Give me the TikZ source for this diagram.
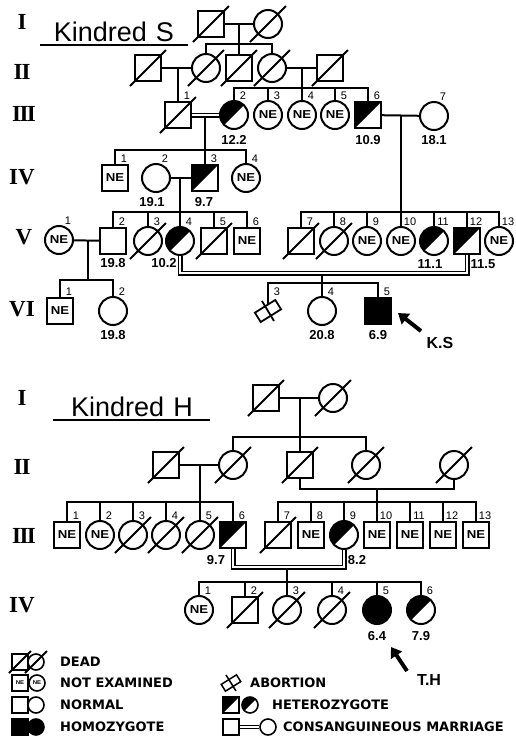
\documentclass[tikz,border=0pt]{standalone}
\usepackage{fontspec}
\setmainfont{Liberation Sans}
\usetikzlibrary{arrows.meta}
\newfontfamily\lsans{Liberation Sans}
\newfontfamily\dvsans{DejaVu Sans}
\newfontfamily\lserif{Liberation Serif}
\newcommand{\numfont}{\lsans\fontsize{11}{11}\selectfont}
\newcommand{\valfont}{\lsans\bfseries\fontsize{13}{13}\selectfont}
\newcommand{\genfont}{\lserif\bfseries\fontsize{23}{23}\selectfont}
\newcommand{\legfont}{\dvsans\bfseries\fontsize{13}{13}\selectfont}
\newcommand{\nefont}{\lsans\bfseries\fontsize{11.5}{11.5}\selectfont}
\newcommand{\titlefont}{\lsans\fontsize{27}{27}\selectfont}
\newcommand{\NEt}{\scalebox{1.15}[1]{\nefont NE}}
\newcommand{\NEs}{\scalebox{1.1}[1]{\lsans\bfseries\fontsize{5.5}{5.5}\selectfont NE}}
\newcommand{\deadmk}[2][18pt]{\draw[slash] ([shift={(-#1,-#1)}]#2.center) -- ([shift={(#1,#1)}]#2.center);}
\newcommand{\pn}[2]{\node[num] (#1n) at ([shift={(9pt,19pt)}]#1.center) {#2};}
\tikzset{
  shp/.style={draw, line width=2pt, inner sep=0pt},
  sq/.style={shp, rectangle, minimum size=26pt},
  ci/.style={shp, circle, minimum size=28pt},
  lsq/.style={shp, line width=1.6pt, rectangle, minimum size=16pt},
  lci/.style={shp, line width=1.6pt, circle, minimum size=16pt},
  hets/.style={path picture={\fill (path picture bounding box.north west) -- (path picture bounding box.north east) -- (path picture bounding box.south west) -- cycle;}},
  hetc/.style={path picture={\fill (path picture bounding box.north west) -- (path picture bounding box.north east) -- (path picture bounding box.south west) -- cycle;}},
  hom/.style={fill=black},
  ln/.style={line width=2pt},
  dbl/.style={line width=1.5pt, double, double distance=2pt},
  slash/.style={line width=1.9pt},
  abort/.style={draw, line width=1.8pt, rectangle, minimum width=24pt, minimum height=11pt, inner sep=0pt, rotate=32},
  num/.style={font=\numfont, inner sep=0pt},
  val/.style={font=\valfont, inner sep=0pt},
  gen/.style={font=\genfont, inner sep=0pt},
  leg/.style={font=\legfont, anchor=west, inner sep=0pt},
  ttl/.style={font=\titlefont, anchor=base, inner sep=0pt},
  pointer/.style={line width=4pt, -{Triangle[length=10pt,width=13pt]}},
  ptext/.style={font=\lsans\bfseries\fontsize{16}{16}\selectfont, inner sep=0pt},
}
\begin{document}
\begin{tikzpicture}[x=1pt,y=-1pt]
\useasboundingbox (0,0) rectangle (515,737);

% ---------- generation numerals ----------
\node[gen] (gS1) at (22,22) {I};
\node[gen] (gS2) at (22,72) {I\kern-1pt I};
\node[gen] (gS3) at (24,114) {I\kern-1.5pt I\kern-1.5pt I};
\node[gen] (gS4) at (22,177) {IV};
\node[gen] (gS5) at (24,237) {V};
\node[gen] (gS6) at (22,309) {VI};
\node[gen] (gH1) at (22,398) {I};
\node[gen] (gH2) at (22,467) {I\kern-1pt I};
\node[gen] (gH3) at (24,536) {I\kern-1.5pt I\kern-1.5pt I};
\node[gen] (gH4) at (22,605) {IV};

% ---------- titles ----------
\node[ttl] (TS) at (114,41) {Kindred\hspace{9pt}S};
\draw[line width=1.6pt] (40,45) -- (188,45);
\node[ttl] (TH) at (132,416) {Kindred\hspace{9pt}H};
\draw[line width=1.6pt] (53,420) -- (210,420);

% ================= KINDRED S =================
\node[sq] (S1a) at (211,24) {};
\node[ci] (S1b) at (268,24) {};
\node[sq] (S2a) at (148,68) {};
\node[ci] (S2b) at (206,68) {};
\node[sq] (S2c) at (239,68) {};
\node[ci] (S2d) at (272,68) {};
\node[sq] (S2e) at (330,68) {};
\node[sq] (S3a) at (178,115) {};
\node[ci,hetc] (S3b) at (234,115) {};
\node[ci] (S3c) at (268,115) {\NEt};
\node[ci] (S3d) at (302,115) {\NEt};
\node[ci] (S3e) at (335,115) {\NEt};
\node[sq,hets] (S3f) at (368,115) {};
\node[ci] (S3g) at (434,116) {};
\node[sq] (S4a) at (115,178) {\NEt};
\node[ci] (S4b) at (156,178) {};
\node[sq,hets] (S4c) at (205,178) {};
\node[ci] (S4d) at (246,178) {\NEt};
\node[ci] (S5a) at (59,240) {\NEt};
\node[sq] (S5b) at (113,241) {};
\node[ci] (S5c) at (148,241) {};
\node[ci,hetc] (S5d) at (180,241) {};
\node[sq] (S5e) at (214,241) {};
\node[sq] (S5f) at (247,241) {\NEt};
\node[sq] (S5g) at (301,241) {};
\node[ci] (S5h) at (334,241) {};
\node[ci] (S5i) at (367,241) {\NEt};
\node[ci] (S5j) at (401,241) {\NEt};
\node[ci,hetc] (S5k) at (434,241) {};
\node[sq,hets] (S5l) at (467,241) {};
\node[ci] (S5m) at (499,241) {\NEt};
\node[sq] (S6a) at (60,311) {\NEt};
\node[ci] (S6b) at (113,311) {};
\node[abort] (S6c) at (268,311) {};
\node[ci] (S6d) at (322,311) {};
\node[sq,hom] (S6e) at (378,311) {};

\deadmk{S1a}\deadmk{S1b}
\deadmk{S2a}\deadmk{S2b}\deadmk{S2c}\deadmk{S2d}\deadmk{S2e}
\deadmk{S3a}
\deadmk{S5c}\deadmk{S5e}\deadmk{S5g}\deadmk{S5h}
\draw[line width=1.8pt] ([shift={(-6pt,10pt)}]S6c.center) -- ([shift={(6pt,-10pt)}]S6c.center);

\coordinate (S1m) at (239,24);
\coordinate (S1s) at (239,44);
\coordinate (S2m1) at (178,68);
\coordinate (S2m2) at (302,68);
\coordinate (S3s) at (302,88);
\coordinate (S3m1) at (205,117);
\coordinate (S4s) at (205,150);
\coordinate (S3m2) at (401,116);
\coordinate (S5sR) at (401,212);
\coordinate (S4m) at (180,178);
\coordinate (S5sL) at (180,212);
\coordinate (S5m1) at (88,240);
\coordinate (S6sL) at (88,280);
\coordinate (S5cc) at (322,273);
\coordinate (S5cd) at (322,275);
\coordinate (S6sR) at (322,283);
\coordinate (S6ctop) at (268,304);

\draw[ln] (S1a) -- (S1b);
\draw[ln] (S1m) -- (S1s);
\draw[ln] (S2b.north) -- (S2b |- S1s) -- (S2d |- S1s) -- (S2d.north);
\draw[ln] (S1s) -- (S2c.north);
\draw[ln] (S2a) -- (S2b);
\draw[ln] (S2d) -- (S2e);
\draw[ln] (S2m1) -- (S3a.north);
\draw[ln] (S2m2) -- (S3d.north);
\draw[ln] (S3b.north) -- (S3b |- S3s) -- (S3f |- S3s) -- (S3f.north);
\foreach \n in {S3c,S3e} \draw[ln] (\n.north) -- (\n |- S3s);
\draw[dbl] (S3a) -- (S3b);
\draw[ln] (S3m1) -- (S4s);
\draw[ln] (S3f) -- (S3g);
\draw[ln] (S3m2) -- (S5sR);
\draw[ln] (S4a.north) -- (S4a |- S4s) -- (S4d |- S4s) -- (S4d.north);
\draw[ln] (S4s) -- (S4c.north);
\draw[ln] (S4b) -- (S4c);
\draw[ln] (S4m) -- (S5d.north);
\draw[ln] (S5b.north) -- (S5b |- S5sL) -- (S5f |- S5sL) -- (S5f.north);
\foreach \n in {S5c,S5e} \draw[ln] (\n.north) -- (\n |- S5sL);
\draw[ln] (S5g.north) -- (S5g |- S5sR) -- (S5m |- S5sR) -- (S5m.north);
\foreach \n in {S5h,S5i,S5k,S5l} \draw[ln] (\n.north) -- (\n |- S5sR);
\draw[ln] (S5sR) -- (S5j.north);
\draw[ln] (S5a) -- (S5b);
\draw[ln] (S5m1) -- (S6sL);
\draw[dbl] (S5d.south) -- (S5d |- S5cc) -- (S5l |- S5cc) -- (S5l.south);
\draw[ln] (S5cd) -- (S6sR);
\draw[ln] (S6a.north) -- (S6a |- S6sL) -- (S6b |- S6sL) -- (S6b.north);
\draw[ln] (S6ctop) -- (S6c |- S6sR) -- (S6e |- S6sR) -- (S6e.north);
\draw[ln] (S6sR) -- (S6d.north);

\pn{S3a}{1}\pn{S3b}{2}\pn{S3c}{3}\pn{S3d}{4}\pn{S3e}{5}\pn{S3f}{6}\pn{S3g}{7}
\pn{S4a}{1}\pn{S4b}{2}\pn{S4c}{3}\pn{S4d}{4}
\pn{S5a}{1}\pn{S5b}{2}\pn{S5c}{3}\pn{S5d}{4}\pn{S5e}{5}\pn{S5f}{6}\pn{S5g}{7}
\pn{S5h}{8}\pn{S5i}{9}\pn{S5j}{10}\pn{S5k}{11}\pn{S5l}{12}\pn{S5m}{13}
\pn{S6a}{1}\pn{S6b}{2}\pn{S6c}{3}\pn{S6d}{4}\pn{S6e}{5}

\node[val] (vS3b) at (234,140) {12.2};
\node[val] (vS3f) at (368,140) {10.9};
\node[val] (vS3g) at (434,140) {18.1};
\node[val] (vS4b) at (152,202) {19.1};
\node[val] (vS4c) at (204,202) {9.7};
\node[val] (vS5b) at (113,263) {19.8};
\node[val] (vS5d) at (164,263) {10.2};
\node[val] (vS5k) at (430,264) {11.1};
\node[val] (vS5l) at (483,264) {11.5};
\node[val] (vS6b) at (113,335) {19.8};
\node[val] (vS6d) at (322,335) {20.8};
\node[val] (vS6e) at (378,335) {6.9};

\coordinate (KS1) at (421,331);
\coordinate (KS2) at (398,313);
\draw[pointer] (KS1) -- (KS2);
\node[ptext] (KS) at (440,343) {K.S};

% ================= KINDRED H =================
\node[sq] (H1a) at (266,398) {};
\node[ci] (H1b) at (333,398) {};
\node[sq] (H2a) at (166,465) {};
\node[ci] (H2b) at (233,465) {};
\node[sq] (H2c) at (300,465) {};
\node[ci] (H2d) at (366,465) {};
\node[ci] (H2e) at (454,465) {};
\node[sq] (H3a) at (67,535) {\NEt};
\node[ci] (H3b) at (100,535) {\NEt};
\node[ci] (H3c) at (133,535) {};
\node[ci] (H3d) at (166,535) {};
\node[ci] (H3e) at (200,535) {};
\node[sq,hets] (H3f) at (233,535) {};
\node[sq] (H3g) at (278,535) {};
\node[sq] (H3h) at (311,535) {\NEt};
\node[ci,hetc] (H3i) at (344,535) {};
\node[sq] (H3j) at (377,535) {\NEt};
\node[sq] (H3k) at (410,535) {\NEt};
\node[sq] (H3l) at (443,535) {\NEt};
\node[sq] (H3m) at (476,535) {\NEt};
\node[ci] (H4a) at (199,610) {\NEt};
\node[sq] (H4b) at (245,610) {};
\node[ci] (H4c) at (287,610) {};
\node[ci] (H4d) at (332,610) {};
\node[ci,hom] (H4e) at (377,610) {};
\node[ci,hetc] (H4f) at (421,610) {};

\deadmk{H1a}\deadmk{H1b}
\deadmk{H2a}\deadmk{H2b}\deadmk{H2c}\deadmk{H2d}\deadmk{H2e}
\deadmk{H3c}\deadmk{H3d}\deadmk{H3e}\deadmk{H3g}
\deadmk{H4b}\deadmk{H4c}\deadmk{H4d}

\coordinate (H1m) at (300,398);
\coordinate (H1s) at (300,437);
\coordinate (H2m1) at (200,465);
\coordinate (H3sL) at (200,502);
\coordinate (H2m2) at (377,489);
\coordinate (H3sR) at (377,502);
\coordinate (H3cc) at (287,567);
\coordinate (H3cd) at (287,569);
\coordinate (H4s) at (287,582);

\draw[ln] (H1a) -- (H1b);
\draw[ln] (H1m) -- (H1s);
\draw[ln] (H2b.north) -- (H2b |- H1s) -- (H2d |- H1s) -- (H2d.north);
\draw[ln] (H1s) -- (H2c.north);
\draw[ln] (H2a) -- (H2b);
\draw[ln] (H2m1) -- (H3e.north);
\draw[ln] (H2c.south) -- (H2c |- H2m2) -- (H2e |- H2m2) -- (H2e.south);
\draw[ln] (H2m2) -- (H3j.north);
\draw[ln] (H3a.north) -- (H3a |- H3sL) -- (H3f |- H3sL) -- (H3f.north);
\foreach \n in {H3b,H3c,H3d} \draw[ln] (\n.north) -- (\n |- H3sL);
\draw[ln] (H3g.north) -- (H3g |- H3sR) -- (H3m |- H3sR) -- (H3m.north);
\foreach \n in {H3h,H3i,H3k,H3l} \draw[ln] (\n.north) -- (\n |- H3sR);
\draw[dbl] (H3f.south) -- (H3f |- H3cc) -- (H3i |- H3cc) -- (H3i.south);
\draw[ln] (H3cd) -- (H4s);
\draw[ln] (H4a.north) -- (H4a |- H4s) -- (H4f |- H4s) -- (H4f.north);
\foreach \n in {H4b,H4d,H4e} \draw[ln] (\n.north) -- (\n |- H4s);
\draw[ln] (H4s) -- (H4c.north);

\pn{H3a}{1}\pn{H3b}{2}\pn{H3c}{3}\pn{H3d}{4}\pn{H3e}{5}\pn{H3f}{6}\pn{H3g}{7}
\pn{H3h}{8}\pn{H3i}{9}\pn{H3j}{10}\pn{H3k}{11}\pn{H3l}{12}\pn{H3m}{13}
\pn{H4a}{1}\pn{H4b}{2}\pn{H4c}{3}\pn{H4d}{4}\pn{H4e}{5}\pn{H4f}{6}

\node[val] (vH3f) at (216,560) {9.7};
\node[val] (vH3i) at (357,560) {8.2};
\node[val] (vH4e) at (377,636) {6.4};
\node[val] (vH4f) at (421,636) {7.9};

\coordinate (TH1) at (407,671);
\coordinate (TH2) at (391,647);
\draw[pointer] (TH1) -- (TH2);
\node[ptext] (THl) at (429,680) {T.H};

% ================= LEGEND =================
\node[lsq] (Ld1) at (20,662) {};
\node[lci] (Ld2) at (36,662) {};
\deadmk[11pt]{Ld1}\deadmk[11pt]{Ld2}
\node[leg] (Ldt) at (60,662) {DEAD};
\node[lsq] (Ln1) at (20,683) {\NEs};
\node[lci] (Ln2) at (37,683) {\NEs};
\node[leg] (Lnt) at (60,683) {NOT EXAMINED};
\node[lsq] (Lo1) at (20,705) {};
\node[lci] (Lo2) at (36,705) {};
\node[leg] (Lot) at (60,705) {NORMAL};
\node[lsq,hom] (Lh1) at (20,727) {};
\node[lci,hom] (Lh2) at (36,727) {};
\node[leg] (Lht) at (60,727) {HOMOZYGOTE};

\node[abort, minimum width=18pt, minimum height=8pt, line width=1.5pt] (La1) at (231,683) {};
\draw[line width=1.5pt] ([shift={(-5pt,8pt)}]La1.center) -- ([shift={(5pt,-8pt)}]La1.center);
\node[leg] (Lat) at (250,683) {ABORTION};
\node[lsq,hets] (Le1) at (231,705) {};
\node[lci,hetc] (Le2) at (250,705) {};
\node[leg] (Let) at (272,705) {HETEROZYGOTE};
\node[lsq] (Lc1) at (231,727) {};
\node[lci] (Lc2) at (268,727) {};
\draw[dbl, line width=1.2pt, double distance=2pt] (Lc1) -- (Lc2);
\node[leg] (Lct) at (283,727) {CONSANGUINEOUS MARRIAGE};
\end{tikzpicture}
\end{document}
